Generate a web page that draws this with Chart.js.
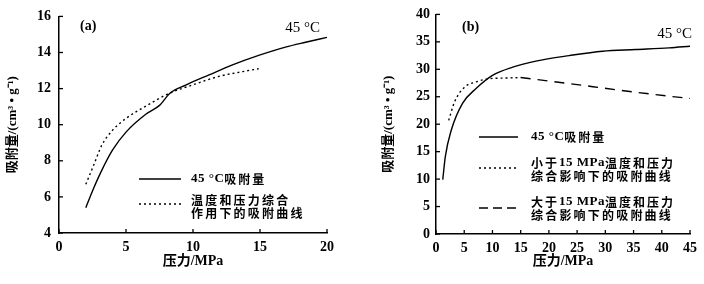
<!DOCTYPE html>
<html><head><meta charset="utf-8">
<script src="https://cdn.jsdelivr.net/npm/chart.js@4.4.0/dist/chart.umd.min.js"></script>
<style>
html,body{margin:0;padding:0;background:#fff;width:704px;height:284px;overflow:hidden}
.wrap{position:absolute;top:0;width:352px;height:284px}
</style></head><body>
<div class="wrap" style="left:0"><canvas id="ca" width="352" height="284"></canvas></div>
<div class="wrap" style="left:352px"><canvas id="cb" width="352" height="284"></canvas></div>
<script>
// ---- Data: panel (a) ----
const aSolidP = [2, 2.5, 3.1, 4, 5, 6.5, 7.5, 8.3, 9.5, 11.2, 12.9, 14.9, 16.9, 18.4, 20];
const aSolidV = [5.40, 6.33, 7.33, 8.60, 9.59, 10.59, 11.07, 11.76, 12.21, 12.76, 13.30, 13.84, 14.30, 14.57, 14.84];
const aDotP = [2, 2.6, 3.2, 4, 4.5, 5, 6.5, 8.2, 10, 11.9, 13.7, 14.9];
const aDotV = [6.70, 7.78, 8.87, 9.70, 10.05, 10.35, 11.04, 11.73, 12.21, 12.67, 12.94, 13.10];
// ---- Data: panel (b) ----
const bSolidP = [1.2, 1.65, 2.7, 4.7, 7.1, 10, 13.6, 17.7, 23.6, 29.5, 35.4, 41.3, 45];
const bSolidV = [9.9, 14.1, 18.9, 23.8, 26.5, 28.9, 30.4, 31.5, 32.5, 33.3, 33.6, 33.9, 34.2];
const bDotP = [2.25, 3.3, 5, 7.1, 9.5, 11.8, 15];
const bDotV = [20.7, 24.1, 26.7, 27.7, 28.3, 28.4, 28.5];
const bDashP = [15, 23.6, 32.5, 41.3, 45];
const bDashV = [28.5, 27.4, 26.2, 25.1, 24.7];
// ---- Text ----
const xTitle = '压力/MPa';
const yTitle = '吸附量/(cm³ • g⁻¹)';
const aLabel = '(a)', bLabel = '(b)', tempLabel = '45 °C';
const aLegend = [['45 °C吸附量'], ['温度和压力综合', '作用下的吸附曲线']];
const bLegend = [['45 °C吸附量'], ['小于15 MPa温度和压力', '综合影响下的吸附曲线'], ['大于15 MPa温度和压力', '综合影响下的吸附曲线']];

const pts = (xs, ys) => xs.map((x, i) => ({x, y: ys[i]}));
const SERIF = '"Liberation Serif", "Noto Sans CJK SC", serif';

function drawMixed(ctx, text, x, y, size, spacing) {
  const runs = text.match(/[\u3000-\u9fff\uff00-\uffef]+|[^\u3000-\u9fff\uff00-\uffef]+/g);
  let cx = x;
  ctx.textBaseline = 'middle'; ctx.textAlign = 'left'; ctx.fillStyle = '#000';
  for (const r of runs) {
    const cjk = /[\u3000-\u9fff]/.test(r);
    ctx.font = cjk ? `bold ${size - 1}px "Noto Sans CJK SC"` : `bold ${size}px "Liberation Serif"`;
    ctx.letterSpacing = (cjk ? spacing : 0.5) + 'px';
    ctx.fillText(r, cx, y);
    cx += ctx.measureText(r).width;
  }
  ctx.letterSpacing = '0px';
}

function lineSample(ctx, x1, x2, y, dash) {
  ctx.save(); ctx.strokeStyle = '#000'; ctx.lineWidth = 1.4; ctx.setLineDash(dash);
  ctx.beginPath(); ctx.moveTo(x1, y); ctx.lineTo(x2, y); ctx.stroke(); ctx.restore();
}

const inwardTicks = {
  id: 'inwardTicks',
  afterDraw(chart) {
    const ctx = chart.ctx, xs = chart.scales.x, ys = chart.scales.y, ca = chart.chartArea;
    ctx.save(); ctx.strokeStyle = '#000'; ctx.lineWidth = 1.3;
    xs.ticks.forEach(t => { const p = xs.getPixelForValue(t.value); ctx.beginPath(); ctx.moveTo(p, ca.bottom); ctx.lineTo(p, ca.bottom - 4); ctx.stroke(); });
    ys.ticks.forEach(t => { const p = ys.getPixelForValue(t.value); ctx.beginPath(); ctx.moveTo(ca.left, p); ctx.lineTo(ca.left + 4, p); ctx.stroke(); });
    ctx.restore();
  }
};

function makeChart(id, cfg) {
  return new Chart(document.getElementById(id), {
    type: 'scatter',
    data: { datasets: cfg.datasets.map(d => ({
      data: d.data, showLine: true, borderColor: '#000', borderWidth: 1.4,
      borderDash: d.dash, pointRadius: 0, cubicInterpolationMode: 'monotone', fill: false
    })) },
    options: {
      responsive: false, animation: false, devicePixelRatio: 1,
      layout: { padding: cfg.padding },
      plugins: { legend: { display: false }, tooltip: { enabled: false } },
      scales: {
        x: {
          type: 'linear', min: cfg.xMin, max: cfg.xMax,
          afterFit: s => { s.height = cfg.xH; },
          ticks: { stepSize: cfg.xStep, color: '#000', padding: 6, maxRotation: 0,
                   font: { family: SERIF, size: 14, weight: 'bold' } },
          grid: { display: true, drawOnChartArea: false, drawTicks: false },
          border: { display: true, color: '#000', width: 1.5 },
          title: { display: true, text: xTitle, color: '#000', padding: { top: 0, bottom: 14 },
                   font: { family: SERIF, size: 14, weight: 'bold' } }
        },
        y: {
          type: 'linear', min: cfg.yMin, max: cfg.yMax,
          afterFit: s => { s.width = cfg.yW; },
          ticks: { stepSize: cfg.yStep, color: '#000', padding: cfg.yPad,
                   font: { family: SERIF, size: 14, weight: 'bold' } },
          grid: { display: true, drawOnChartArea: false, drawTicks: false },
          border: { display: true, color: '#000', width: 1.5 },
          title: { display: true, text: yTitle, color: '#000', padding: { top: cfg.yTitlePad, bottom: 0 },
                   font: { family: SERIF, size: 13, weight: 'bold' } }
        }
      }
    },
    plugins: [inwardTicks, { id: 'notes', afterDraw: cfg.notes }]
  });
}

makeChart('ca', {
  xMin: 0, xMax: 20, xStep: 5, yMin: 4, yMax: 16, yStep: 2,
  padding: { left: 0, right: 25, top: 12, bottom: 0 }, yW: 59, xH: 51, yPad: 8, yTitlePad: 5,
  datasets: [ { data: pts(aSolidP, aSolidV), dash: [] }, { data: pts(aDotP, aDotV), dash: [2, 3] } ],
  notes(chart) {
    const ctx = chart.ctx;
    ctx.save(); ctx.fillStyle = '#000'; ctx.textBaseline = 'middle';
    ctx.font = `bold 14px ${SERIF}`; ctx.textAlign = 'left'; ctx.fillText(aLabel, 80, 26);
    ctx.font = `15px ${SERIF}`; ctx.textAlign = 'right'; ctx.fillText(tempLabel, 320, 28);
    lineSample(ctx, 139, 181, 179, []);
    drawMixed(ctx, aLegend[0][0], 191, 179, 13, 2);
    lineSample(ctx, 139, 181, 204, [2, 3]);
    drawMixed(ctx, aLegend[1][0], 191, 200, 13, 2.2);
    drawMixed(ctx, aLegend[1][1], 191, 213, 13, 2.2);
    ctx.restore();
  }
});

makeChart('cb', {
  xMin: 0, xMax: 45, xStep: 5, yMin: 0, yMax: 40, yStep: 5,
  padding: { left: 0, right: 14, top: 14, bottom: 0 }, yW: 84, xH: 50, yPad: 6, yTitlePad: 29,
  datasets: [ { data: pts(bSolidP, bSolidV), dash: [] }, { data: pts(bDotP, bDotV), dash: [2, 3] },
              { data: pts(bDashP, bDashV), dash: [10, 7] } ],
  notes(chart) {
    const ctx = chart.ctx;
    ctx.save(); ctx.fillStyle = '#000'; ctx.textBaseline = 'middle';
    ctx.font = `bold 14px ${SERIF}`; ctx.textAlign = 'left'; ctx.fillText(bLabel, 462 - 352, 27);
    ctx.font = `15px ${SERIF}`; ctx.textAlign = 'right'; ctx.fillText(tempLabel, 692 - 352, 34);
    lineSample(ctx, 479 - 352, 518 - 352, 137, []);
    drawMixed(ctx, bLegend[0][0], 531 - 352, 137, 13, 2);
    lineSample(ctx, 479 - 352, 518 - 352, 168, [2, 3]);
    drawMixed(ctx, bLegend[1][0], 531 - 352, 163, 13, 2);
    drawMixed(ctx, bLegend[1][1], 531 - 352, 176, 13, 2.2);
    lineSample(ctx, 479 - 352, 516 - 352, 208, [9, 5]);
    drawMixed(ctx, bLegend[2][0], 531 - 352, 202, 13, 2);
    drawMixed(ctx, bLegend[2][1], 531 - 352, 215, 13, 2.2);
    ctx.restore();
  }
});
</script>
</body></html>
